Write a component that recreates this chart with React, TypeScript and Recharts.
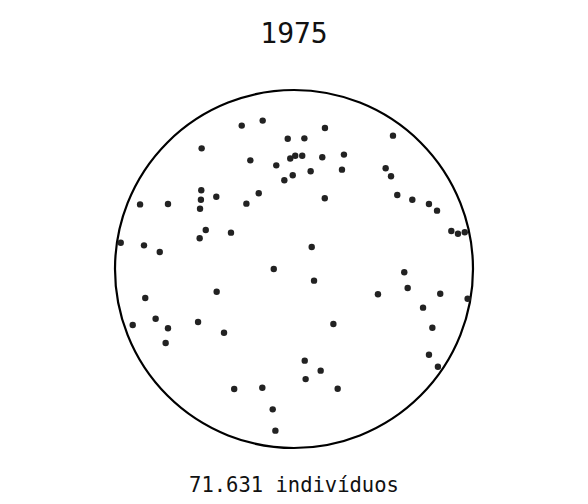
import { ScatterChart, Scatter, XAxis, YAxis, ReferenceArea } from 'recharts';

// positions inside the circle, -100..100 on both axes
const xValues = [
  -29.2, -17.5, -3.5, 5.8, 17.3, 55.3, -51.6, -24.4, -9.9, -2.1,
  0.7, 4.6, 15.8, 27.9, -0.7, -5.4, 9.3, 26.8, 51.2, 54.2,
  -51.8, -52.0, -43.4, -19.7, -86.0, -70.4, -26.6, -52.5, 17.2, 57.7,
  66.1, 75.4, 79.9, -49.3, -52.7, -35.2, -96.8, -83.8, -75.0, 87.9,
  91.6, 95.4, 9.9, -11.3, 61.6, 63.5, 46.9, 81.7, 97.0, 11.2,
  -43.2, -83.1, -77.3, -90.1, -70.4, -53.6, -39.1, -71.7, 22.0, 72.1,
  77.3, 75.4, 80.4, 6.0, 14.9, 6.5, 24.4, -33.4, -17.7, -11.9,
  -10.4,
];
const yValues = [
  80.1, 82.9, 72.8, 73.0, 78.8, 74.5, 67.4, 60.7, 57.9, 61.7,
  63.3, 63.3, 62.4, 63.9, 52.4, 49.6, 54.6, 55.5, 56.3, 51.8,
  44.0, 38.7, 40.4, 42.3, 36.1, 36.3, 36.5, 33.7, 39.5, 41.3,
  38.7, 36.3, 32.6, 21.8, 17.2, 20.3, 14.7, 13.2, 9.5, 21.2,
  19.7, 20.5, 12.3, 0.0, -1.8, -10.6, -14.1, -13.8, -16.6, -6.5,
  -12.7, -16.2, -27.8, -31.3, -33.1, -29.6, -35.6, -41.3, -30.7, -21.6,
  -32.8, -47.9, -54.6, -51.2, -56.8, -61.5, -66.9, -67.0, -66.3, -78.4,
  -90.3,
];

const year = '1975';
const caption = '71.631 indivíduos';

const points = xValues.map((x, i) => ({ x, y: yValues[i] }));

const FONT = '"DejaVu Sans Mono", "Liberation Mono", monospace';

const Ring = (props: any) => {
  const { x, y, width, height } = props;
  return (
    <ellipse
      cx={x + width / 2}
      cy={y + height / 2}
      rx={width / 2}
      ry={height / 2}
      fill="none"
      stroke="#000"
      strokeWidth={2.2}
    />
  );
};

const App = () => {
  return (
    <div style={{ position: 'absolute', left: 0, top: 0, width: 588, height: 504, background: '#fff' }}>
      <div
        style={{
          position: 'absolute',
          top: 17,
          width: 588,
          textAlign: 'center',
          fontFamily: FONT,
          fontSize: 28,
          color: '#111',
        }}
      >
        {year}
      </div>
      <ScatterChart width={588} height={504} margin={{ top: 90, right: 115, bottom: 56, left: 115 }}>
        <XAxis type="number" dataKey="x" domain={[-100, 100]} hide />
        <YAxis type="number" dataKey="y" domain={[-100, 100]} hide />
        <ReferenceArea x1={-100} x2={100} y1={-100} y2={100} shape={<Ring />} />
        <Scatter
          data={points}
          fill="#222"
          isAnimationActive={false}
          shape={(p: any) => <circle cx={p.cx} cy={p.cy} r={3.2} fill="#222" />}
        />
      </ScatterChart>
      <div
        style={{
          position: 'absolute',
          top: 473,
          width: 588,
          textAlign: 'center',
          fontFamily: FONT,
          fontSize: 20.5,
          color: '#111',
        }}
      >
        {caption}
      </div>
    </div>
  );
};

export default App;
